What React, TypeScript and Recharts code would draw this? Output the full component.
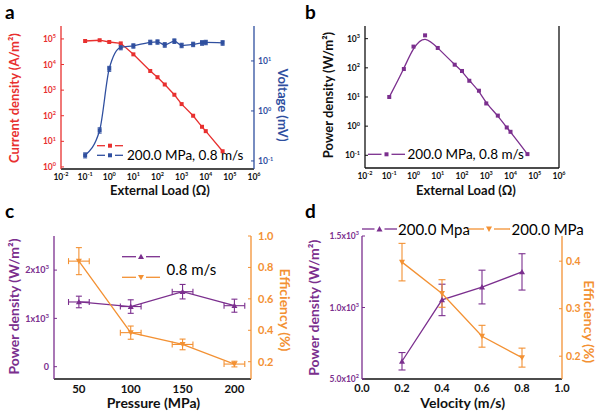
import React from 'react';
import { ComposedChart, Line, Scatter, XAxis, YAxis, ErrorBar, Label, Legend } from 'recharts';

const FONT = 'Lato, "Open Sans", "DejaVu Sans", sans-serif';
const RED = '#e8302f';
const BLUE = '#2f4f9f';
const PURPLE = '#7b2f8e';
const ORANGE = '#f39133';
const BLACK = '#111111';

// ---------- data ----------
const loadOhm = [0.1, 0.4, 1, 3, 10, 50, 100, 200, 500, 1000, 3000, 7000, 10000, 50000];
const currentDensity = [83000, 89000, 76000, 67000, 25000, 5600, 3200, 1660, 660, 285, 100, 37, 25, 4.1];
const voltage = [0.13, 0.41, 7.0, 18.7, 20, 23.6, 24, 21, 25, 20.5, 21.5, 23, 23.5, 23];
const voltageErr = [0.015, 0.05, 0.8, 2, 2, 2.4, 2.4, 2.2, 2.6, 2.1, 2.2, 2.4, 2.4, 2.4];
const powerDensityLoad = [10, 91, 535, 1300, 480, 128, 78, 36, 16.4, 6, 2.3, 0.9, 0.64, 0.11];

const pressureMPa = [50, 100, 150, 200];
const pressureErrMPa = [10, 10, 10, 10];
const pressurePower = [1340, 1245, 1553, 1263];
const pressurePowerErr = [120, 140, 150, 135];
const pressureEff = [0.84, 0.385, 0.31, 0.185];
const pressureEffErr = [0.086, 0.042, 0.034, 0.018];

const velocity = [0.2, 0.4, 0.6, 0.8];
const velocityPower = [624, 1053, 1143, 1249];
const velocityPowerErr = [61, 110, 118, 127];
const velocityEff = [0.398, 0.332, 0.242, 0.197];
const velocityEffErr = [0.0395, 0.029, 0.023, 0.02];

const logXTicks = [0.01, 0.1, 1, 10, 100, 1000, 10000, 100000, 1000000];
const currentTicks = [1, 10, 100, 1000, 10000, 100000];
const voltageTicks = [0.1, 1, 10];
const powerLogTicks = [0.1, 1, 10, 100, 1000];
const pressureTicks = [50, 100, 150, 200];
const pressurePowerTicks = [0, 1000, 2000];
const pressureEffTicks = [0.2, 0.4, 0.6, 0.8, 1.0];
const velocityTicks = [0, 0.2, 0.4, 0.6, 0.8, 1.0];
const velocityPowerTicks = [500, 1000, 1500];
const velocityEffTicks = [0.2, 0.3, 0.4];

const dataA = loadOhm.map((x, i) => ({ x, cur: currentDensity[i], volt: voltage[i], voltErr: voltageErr[i] }));
const dataB = loadOhm.map((x, i) => ({ x, p: powerDensityLoad[i] }));
const dataC = pressureMPa.map((x, i) => ({
  x, xErr: pressureErrMPa[i], p: pressurePower[i], pErr: pressurePowerErr[i], e: pressureEff[i], eErr: pressureEffErr[i],
}));
const dataD = velocity.map((x, i) => ({
  x, p: velocityPower[i], pErr: velocityPowerErr[i], e: velocityEff[i], eErr: velocityEffErr[i],
}));

// ---------- formatters ----------
const pow10 = (v: number) => {
  const e = Math.round(Math.log10(v));
  return [
    <tspan key="b">10</tspan>,
    <tspan key="e" dy={-3.5} fontSize={5.5}>{e}</tspan>,
  ];
};
const sciInt = (v: number) => {
  if (v === 0) return '0';
  const e = Math.floor(Math.log10(v) + 1e-9);
  const m = Math.round(v / Math.pow(10, e));
  return [<tspan key="b">{`${m}x10`}</tspan>, <tspan key="e" dy={-4} fontSize={6}>{e}</tspan>];
};
const sciDec = (v: number) => {
  const e = Math.floor(Math.log10(v) + 1e-9);
  const m = v / Math.pow(10, e);
  return [<tspan key="b">{`${m.toFixed(1)}x10`}</tspan>, <tspan key="e" dy={-4} fontSize={5.5}>{e}</tspan>];
};
const fix1 = (v: number) => v.toFixed(1);
const plain = (v: number) => String(v);

type TickOpts = {
  side: 'left' | 'right' | 'bottom';
  gap: number;
  color: string;
  size: number;
  inward?: number;
  fmt: (v: number) => any;
};
const makeTick = (o: TickOpts) => (props: any) => {
  const { x, y, payload, index } = props;
  const v = payload.value;
  const inward = o.inward ?? 0;
  let line: any = null;
  let ty = y;
  let anchor: 'start' | 'middle' | 'end' = 'middle';
  if (o.side === 'left') {
    const ax = x + o.gap;
    if (inward) line = <line x1={ax} x2={ax + inward} y1={y} y2={y} stroke={o.color} strokeWidth={1} />;
    anchor = 'end';
    ty = y + o.size * 0.36;
  } else if (o.side === 'right') {
    const ax = x - o.gap;
    if (inward) line = <line x1={ax} x2={ax - inward} y1={y} y2={y} stroke={o.color} strokeWidth={1} />;
    anchor = 'start';
    ty = y + o.size * 0.36;
  } else {
    const ay = y - o.gap;
    if (inward) line = <line x1={x} x2={x} y1={ay} y2={ay - inward} stroke={o.color} strokeWidth={1} />;
    ty = y + o.size * 0.78;
  }
  return (
    <g key={`tick-${index}`}>
      {line}
      <text x={x} y={ty} textAnchor={anchor} fill={o.color} fontSize={o.size} fontWeight="bold" fontFamily={FONT}>
        {o.fmt(v)}
      </text>
    </g>
  );
};

// ---------- text helpers ----------
const Title = ({ x, y, angle, color, size, text }: any) => (
  <text
    x={x}
    y={y}
    transform={angle ? `rotate(${angle},${x},${y})` : undefined}
    textAnchor="middle"
    dominantBaseline="central"
    fill={color}
    fontSize={size}
    fontWeight="bold"
    fontFamily={FONT}
  >
    {text}
  </text>
);

const square = (cx: number, cy: number, color: string, s = 4) => (
  <rect x={cx - s / 2} y={cy - s / 2} width={s} height={s} fill={color} />
);
const triUp = (cx: number, cy: number, color: string, s = 3) => (
  <path d={`M${cx},${cy - s} L${cx + s},${cy + s * 0.8} L${cx - s},${cy + s * 0.8} Z`} fill={color} />
);
const triDown = (cx: number, cy: number, color: string, s = 3) => (
  <path d={`M${cx},${cy + s} L${cx + s},${cy - s * 0.8} L${cx - s},${cy - s * 0.8} Z`} fill={color} />
);

const LegendSample = ({ x1, x2, y, color, marker }: any) => {
  const cx = (x1 + x2) / 2;
  return (
    <g>
      <line x1={x1} x2={cx - 5} y1={y} y2={y} stroke={color} strokeWidth={1.3} />
      <line x1={cx + 5} x2={x2} y1={y} y2={y} stroke={color} strokeWidth={1.3} />
      {marker(cx, y, color)}
    </g>
  );
};

const squareDot = (color: string) => (p: any) => {
  if (p.cx == null || p.cy == null) return <g key={`d-${p.index}`} />;
  return <g key={`d-${p.index}`}>{square(p.cx, p.cy, color)}</g>;
};
const triUpShape = (color: string) => (p: any) => <g>{triUp(p.cx, p.cy, color)}</g>;
const triDownShape = (color: string) => (p: any) => <g>{triDown(p.cx, p.cy, color)}</g>;

const legendWrap = (w: number, h: number) => ({ left: 0, top: 0, width: w, height: h, pointerEvents: 'none' as const });

const PanelLetter = ({ x, top, ch }: any) => (
  <svg style={{ position: 'absolute', left: x, top }} width={24} height={26}>
    <text x={2} y={19} fontSize={19} fontWeight="bold" fontFamily={FONT} fill="#000">{ch}</text>
  </svg>
);

const abs = (left: number, top: number): React.CSSProperties => ({ position: 'absolute', left, top });

// ---------- panels ----------
const PanelA = () => (
  <ComposedChart width={300} height={210} data={dataA} margin={{ top: 26, right: 0, bottom: 0, left: 0 }}>
    <XAxis
      dataKey="x" type="number" scale="log" domain={[0.01, 1000000]} ticks={logXTicks} allowDataOverflow interval={0}
      height={41} tickSize={0} tickMargin={4} tickLine={false} axisLine={{ stroke: BLACK, strokeWidth: 1.3 }}
      tick={makeTick({ side: 'bottom', gap: 4, color: BLACK, size: 8.5, fmt: pow10 })}
    >
      <Label content={() => <Title x={160} y={190} color={BLACK} size={13} text="External Load (Ω)" />} />
    </XAxis>
    <XAxis xAxisId="top" orientation="top" type="number" domain={[0, 1]} height={0} tick={false} tickLine={false} axisLine={{ stroke: BLACK, strokeWidth: 1.3 }} />
    <YAxis
      yAxisId="cur" type="number" scale="log" domain={[0.83, 320000]} ticks={currentTicks} allowDataOverflow interval={0}
      width={61} tickSize={0} tickMargin={5} tickLine={false} axisLine={{ stroke: RED, strokeWidth: 1.3 }}
      tick={makeTick({ side: 'left', gap: 5, color: RED, size: 8.5, inward: 3, fmt: pow10 })}
    >
      <Label content={() => <Title x={14} y={98} angle={-90} color={RED} size={13} text="Current density (A/m²)" />} />
    </YAxis>
    <YAxis
      yAxisId="volt" orientation="right" type="number" scale="log" domain={[0.069, 50]} ticks={voltageTicks} allowDataOverflow interval={0}
      width={46} tickSize={0} tickMargin={4} tickLine={false} axisLine={{ stroke: BLUE, strokeWidth: 1.3 }}
      tick={makeTick({ side: 'right', gap: 4, color: BLUE, size: 8.5, inward: 3, fmt: pow10 })}
    >
      <Label content={() => <Title x={283} y={105} angle={90} color={BLUE} size={13} text="Voltage (mV)" />} />
    </YAxis>
    <Line yAxisId="cur" dataKey="cur" type="linear" stroke={RED} strokeWidth={1.3} dot={squareDot(RED)} isAnimationActive={false} />
    <Line yAxisId="volt" dataKey="volt" type="monotone" stroke={BLUE} strokeWidth={1.3} dot={squareDot(BLUE)} isAnimationActive={false}>
      <ErrorBar dataKey="voltErr" direction="y" width={2} stroke={BLUE} strokeWidth={1} isAnimationActive={false} />
    </Line>
    <Legend
      layout="vertical" align="center" verticalAlign="middle" wrapperStyle={legendWrap(300, 210)}
      content={() => (
        <svg width={300} height={210} style={{ position: 'absolute', left: 0, top: 0 }}>
          <LegendSample x1={97} x2={123} y={145.7} color={RED} marker={square} />
          <LegendSample x1={97} x2={123} y={155.3} color={BLUE} marker={square} />
          <text x={127} y={160} fontSize={13.5} fontFamily={FONT} fill="#000">200.0 MPa, 0.8 m/s</text>
        </svg>
      )}
    />
  </ComposedChart>
);

const PanelB = () => (
  <ComposedChart width={300} height={210} data={dataB} margin={{ top: 26, right: 0, bottom: 0, left: 0 }}>
    <XAxis
      dataKey="x" type="number" scale="log" domain={[0.01, 1000000]} ticks={logXTicks} allowDataOverflow interval={0}
      height={42} tickSize={0} tickMargin={4} tickLine={false} axisLine={{ stroke: BLACK, strokeWidth: 1.3 }}
      tick={makeTick({ side: 'bottom', gap: 4, color: BLACK, size: 8.5, fmt: pow10 })}
    >
      <Label content={() => <Title x={166} y={190} color={BLACK} size={13} text="External Load (Ω)" />} />
    </XAxis>
    <XAxis xAxisId="top" orientation="top" type="number" domain={[0, 1]} height={0} tick={false} tickLine={false} axisLine={{ stroke: BLACK, strokeWidth: 1.3 }} />
    <YAxis
      yAxisId="p" type="number" scale="log" domain={[0.0367, 2720]} ticks={powerLogTicks} allowDataOverflow interval={0}
      width={65} tickSize={0} tickMargin={5} tickLine={false} axisLine={{ stroke: BLACK, strokeWidth: 1.3 }}
      tick={makeTick({ side: 'left', gap: 5, color: BLACK, size: 8.5, inward: 3, fmt: pow10 })}
    >
      <Label content={() => <Title x={28} y={95} angle={-90} color={BLACK} size={13} text="Power density (W/m²)" />} />
    </YAxis>
    <YAxis yAxisId="border" orientation="right" type="number" domain={[0, 1]} width={41} tick={false} tickLine={false} axisLine={{ stroke: BLACK, strokeWidth: 1.3 }} />
    <Line yAxisId="p" dataKey="p" type="basis" stroke={PURPLE} strokeWidth={1.3} dot={squareDot(PURPLE)} isAnimationActive={false} />
    <Legend
      layout="vertical" align="center" verticalAlign="middle" wrapperStyle={legendWrap(300, 210)}
      content={() => (
        <svg width={300} height={210} style={{ position: 'absolute', left: 0, top: 0 }}>
          <LegendSample x1={68} x2={105} y={154.3} color={PURPLE} marker={square} />
          <text x={107.5} y={159} fontSize={13.5} fontFamily={FONT} fill="#000">200.0 MPa, 0.8 m/s</text>
        </svg>
      )}
    />
  </ComposedChart>
);

const PanelC = () => (
  <ComposedChart width={300} height={205} data={dataC} margin={{ top: 26, right: 0, bottom: 0, left: 0 }}>
    <XAxis
      dataKey="x" type="number" domain={[26, 216]} ticks={pressureTicks} allowDataOverflow interval={0}
      height={36} tickSize={0} tickMargin={5} tickLine={false} axisLine={{ stroke: BLACK, strokeWidth: 1.3 }}
      tick={makeTick({ side: 'bottom', gap: 5, color: BLACK, size: 11.5, fmt: plain })}
    >
      <Label content={() => <Title x={153.5} y={192.5} color={BLACK} size={14} text="Pressure (MPa)" />} />
    </XAxis>
    <XAxis xAxisId="top" orientation="top" type="number" domain={[0, 1]} height={0} tick={false} tickLine={false} axisLine={{ stroke: BLACK, strokeWidth: 1.3 }} />
    <YAxis
      yAxisId="p" type="number" domain={[-255, 2706]} ticks={pressurePowerTicks} allowDataOverflow interval={0}
      width={54} tickSize={0} tickMargin={5} tickLine={false} axisLine={{ stroke: PURPLE, strokeWidth: 1.3 }}
      tick={makeTick({ side: 'left', gap: 5, color: PURPLE, size: 9, inward: 3, fmt: sciInt })}
    >
      <Label content={() => <Title x={13} y={96.5} angle={-90} color={PURPLE} size={14} text="Power density (W/m²)" />} />
    </YAxis>
    <YAxis
      yAxisId="e" orientation="right" type="number" domain={[0.09, 1.0]} ticks={pressureEffTicks} allowDataOverflow interval={0}
      width={49} tickSize={0} tickMargin={7} tickLine={false} axisLine={{ stroke: ORANGE, strokeWidth: 1.3 }}
      tick={makeTick({ side: 'right', gap: 7, color: ORANGE, size: 11, inward: 3, fmt: fix1 })}
    >
      <Label content={() => <Title x={285} y={100} angle={90} color={ORANGE} size={14} text="Efficiency (%)" />} />
    </YAxis>
    <Scatter
      yAxisId="p" dataKey="p" line={{ stroke: PURPLE, strokeWidth: 1.3 }} lineType="joint"
      shape={triUpShape(PURPLE)} isAnimationActive={false}
    >
      <ErrorBar dataKey="pErr" direction="y" width={3} stroke={PURPLE} strokeWidth={1.1} isAnimationActive={false} />
      <ErrorBar dataKey="xErr" direction="x" width={3} stroke={PURPLE} strokeWidth={1.1} isAnimationActive={false} />
    </Scatter>
    <Scatter
      yAxisId="e" dataKey="e" line={{ stroke: ORANGE, strokeWidth: 1.3 }} lineType="joint"
      shape={triDownShape(ORANGE)} isAnimationActive={false}
    >
      <ErrorBar dataKey="eErr" direction="y" width={3} stroke={ORANGE} strokeWidth={1.1} isAnimationActive={false} />
      <ErrorBar dataKey="xErr" direction="x" width={3} stroke={ORANGE} strokeWidth={1.1} isAnimationActive={false} />
    </Scatter>
    <Legend
      layout="vertical" align="center" verticalAlign="middle" wrapperStyle={legendWrap(300, 205)}
      content={() => (
        <svg width={300} height={205} style={{ position: 'absolute', left: 0, top: 0 }}>
          <LegendSample x1={122} x2={160} y={46.7} color={PURPLE} marker={triUp} />
          <LegendSample x1={122} x2={160} y={67.3} color={ORANGE} marker={triDown} />
          <text x={166.5} y={64.5} fontSize={15} fontFamily={FONT} fill="#000">0.8 m/s</text>
        </svg>
      )}
    />
  </ComposedChart>
);

const PanelD = () => (
  <ComposedChart width={300} height={205} data={dataD} margin={{ top: 26, right: 0, bottom: 0, left: 0 }}>
    <XAxis
      dataKey="x" type="number" domain={[0, 1]} ticks={velocityTicks} allowDataOverflow interval={0}
      height={36} tickSize={0} tickMargin={4} tickLine={false} axisLine={{ stroke: BLACK, strokeWidth: 1.3 }}
      tick={makeTick({ side: 'bottom', gap: 4, color: BLACK, size: 11, fmt: fix1 })}
    >
      <Label content={() => <Title x={162.7} y={192.5} color={BLACK} size={14} text="Velocity (m/s)" />} />
    </XAxis>
    <XAxis xAxisId="top" orientation="top" type="number" domain={[0, 1]} height={0} tick={false} tickLine={false} axisLine={{ stroke: BLACK, strokeWidth: 1.3 }} />
    <YAxis
      yAxisId="p" type="number" domain={[500, 1500]} ticks={velocityPowerTicks} allowDataOverflow interval={0}
      width={62} tickSize={0} tickMargin={3} tickLine={false} axisLine={{ stroke: PURPLE, strokeWidth: 1.3 }}
      tick={makeTick({ side: 'left', gap: 3, color: PURPLE, size: 8.5, inward: 3, fmt: sciDec })}
    >
      <Label content={() => <Title x={13.3} y={97.7} angle={-90} color={PURPLE} size={14} text="Power density (W/m²)" />} />
    </YAxis>
    <YAxis
      yAxisId="e" orientation="right" type="number" domain={[0.152, 0.453]} ticks={velocityEffTicks} allowDataOverflow interval={0}
      width={38} tickSize={0} tickMargin={4} tickLine={false} axisLine={{ stroke: ORANGE, strokeWidth: 1.3 }}
      tick={makeTick({ side: 'right', gap: 4, color: ORANGE, size: 10.5, inward: 3, fmt: fix1 })}
    >
      <Label content={() => <Title x={289} y={111.7} angle={90} color={ORANGE} size={14} text="Efficiency (%)" />} />
    </YAxis>
    <Scatter
      yAxisId="p" dataKey="p" line={{ stroke: PURPLE, strokeWidth: 1.3 }} lineType="joint"
      shape={triUpShape(PURPLE)} isAnimationActive={false}
    >
      <ErrorBar dataKey="pErr" direction="y" width={3.5} stroke={PURPLE} strokeWidth={1.1} isAnimationActive={false} />
    </Scatter>
    <Scatter
      yAxisId="e" dataKey="e" line={{ stroke: ORANGE, strokeWidth: 1.3 }} lineType="joint"
      shape={triDownShape(ORANGE)} isAnimationActive={false}
    >
      <ErrorBar dataKey="eErr" direction="y" width={3.5} stroke={ORANGE} strokeWidth={1.1} isAnimationActive={false} />
    </Scatter>
    <Legend
      layout="vertical" align="center" verticalAlign="middle" wrapperStyle={legendWrap(300, 205)}
      content={() => (
        <svg width={300} height={205} style={{ position: 'absolute', left: 0, top: 0 }}>
          <LegendSample x1={62} x2={97} y={19} color={PURPLE} marker={triUp} />
          <text x={98} y={24.5} fontSize={15} fontFamily={FONT} fill="#000">200.0 Mpa</text>
          <LegendSample x1={168} x2={210} y={19} color={ORANGE} marker={triDown} />
          <text x={211.5} y={24.5} fontSize={15} fontFamily={FONT} fill="#000">200.0 MPa</text>
        </svg>
      )}
    />
  </ComposedChart>
);

export default function App() {
  return (
    <div style={{ position: 'absolute', left: 0, top: 0, width: 600, height: 415, background: '#fff', overflow: 'hidden', fontFamily: FONT }}>
      <div style={abs(0, 0)}><PanelA /></div>
      <div style={abs(300, 0)}><PanelB /></div>
      <div style={abs(0, 210)}><PanelC /></div>
      <div style={abs(300, 210)}><PanelD /></div>
      <PanelLetter x={3} top={0} ch="a" />
      <PanelLetter x={303} top={0} ch="b" />
      <PanelLetter x={3} top={199} ch="c" />
      <PanelLetter x={303} top={199} ch="d" />
    </div>
  );
}
